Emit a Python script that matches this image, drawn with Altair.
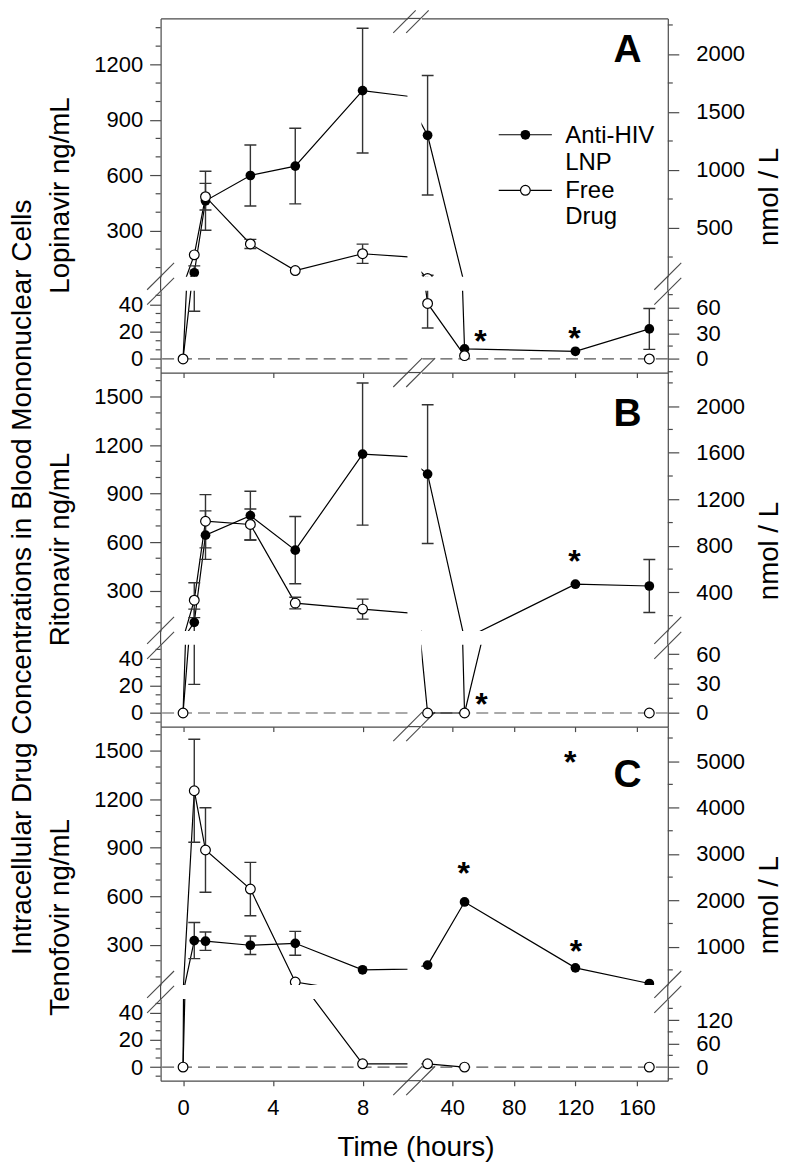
import altair as alt
import pandas as pd

# ---------------- values ----------------
times = [0, 0.5, 1, 3, 5, 8, 24, 48, 120, 168]

lopinavir_lnp     = [0, 72, 462, 599, 650, 1059, 817, 7.4, 5.6, 22]
lopinavir_lnp_sd  = [0, 37, 160, 165, 205, 338, 324, 0, 0, 15]
lopinavir_free    = [0, 169, 484, 228, 84, 175, 40.7, 2.4, None, 0]
lopinavir_free_sd = [0, 0, 72, 25, 0, 52, 18, 0, None, 0]

ritonavir_lnp     = [0, 103, 643, 764, 550, 1145, 1021, 0, 339, 328]
ritonavir_lnp_sd  = [0, 82, 150, 151, 208, 440, 430, 0, 0, 164]
ritonavir_free    = [0, 240, 729, 709, 222, 185, 0, 0, None, 0]
ritonavir_free_sd = [0, 108, 165, 96, 36, 62, 0, 0, None, 0]

tenofovir_lnp     = [0, 325, 321, 296, 308, 144, 173, 564, 156, 59]
tenofovir_lnp_sd  = [0, 112, 57, 57, 74, 0, 0, 0, 0, 0]
tenofovir_free    = [0, 1253, 886, 644, 68, 2.4, 2.4, 0, None, 0]
tenofovir_free_sd = [0, 319, 262, 165, 0, 0, 0, 0, None, 0]

series_values = [
    (lopinavir_lnp, lopinavir_lnp_sd, lopinavir_free, lopinavir_free_sd),
    (ritonavir_lnp, ritonavir_lnp_sd, ritonavir_free, ritonavir_free_sd),
    (tenofovir_lnp, tenofovir_lnp_sd, tenofovir_free, tenofovir_free_sd),
]

# significance asterisks (time, ng/mL)
star_t = [[58.3, 119.4], [59.0, 119.4], [116.6, 47.5, 120.3]]
star_v = [[18.3, 20.5], [11.9, 528], [1475, 785, 302]]

panel_letters = ["A", "B", "C"]
letter_t = 163
letter_v = [1216, 1321, 1279]

drug_titles = ["Lopinavir ng/mL", "Ritonavir ng/mL", "Tenofovir ng/mL"]
drug_title_y = [177.5, 177.5, 191.3]
mol_weight = [628.8, 720.9, 287.2]

legend_labels = ["Anti-HIV", "LNP", "Free", "Drug"]
legend_label_v = [774, 630.5, 477, 335]
legend_label_t = 113.4
legend_line_t = [70.2, 104.7]
legend_marker_t = 87.5
legend_line_v = [819.7, 518.6]

# axes
x_domains = [[-1, 10], [20, 180]]
x_ticks = [[0, 4, 8], [40, 80, 120, 160]]
upper_domain = [[50, 1450], [50, 1650], [50, 1650]]
lower_domain = [-10, 50]
left_major_up = [[300, 600, 900, 1200], [300, 600, 900, 1200, 1500], [300, 600, 900, 1200, 1500]]
left_minor_up = [[100, 200, 400, 500, 700, 800, 1000, 1100, 1300, 1400],
                 [100, 200, 400, 500, 700, 800, 1000, 1100, 1300, 1400, 1600],
                 [100, 200, 400, 500, 700, 800, 1000, 1100, 1300, 1400, 1600]]
left_major_lo = [0, 20, 40]
left_minor_lo = [-20 / 3, 20 / 3, 40 / 3, 80 / 3, 100 / 3, 140 / 3]
right_major_up = [[500, 1000, 1500, 2000], [400, 800, 1200, 1600, 2000], [1000, 2000, 3000, 4000, 5000]]
right_minor_up = [[250, 750, 1250, 1750, 2250], [200, 600, 1000, 1400, 1800, 2200], [500, 1500, 2500, 3500, 4500, 5500]]
right_major_lo = [[0, 30, 60], [0, 30, 60], [0, 60, 120]]
right_minor_lo = [[-15, 15, 45, 75], [15, 45], [-30, 30, 90, 150]]

# ---------------- layout / style ----------------
WL, WR, GX = 247.5, 247.0, 13.5
HU, HL, GY = 259.0, 82.0, 14.0
AX = "#4a4a4a"
ERR = "#333333"
FONT = "Liberation Sans"
ONE = pd.DataFrame({"k": [0]})


def panel_frames(p):
    lnp, lnp_sd, free, free_sd = series_values[p]
    rows = []
    for name, vals, sds in (("LNP", lnp, lnp_sd), ("Free", free, free_sd)):
        seg = 0
        for t, v, s in zip(times, vals, sds):
            if v is None:
                seg += 1
                continue
            rows.append({"t": t, "v": v, "sd": s, "series": name, "grp": f"{name}{seg}"})
    df = pd.DataFrame(rows)
    e = df[df["sd"] > 0].copy()
    e["lo"] = e["v"] - e["sd"]
    e["hi"] = e["v"] + e["sd"]
    caps = pd.concat([e.assign(c=e["lo"]), e.assign(c=e["hi"])])
    return df, e, caps


def rule_seg(x1, y1, x2, y2, color=AX, w=1.1):
    return alt.Chart(ONE).mark_rule(color=color, strokeWidth=w).encode(
        x=alt.value(x1), y=alt.value(y1), x2=alt.value(x2), y2=alt.value(y2))


def text_at(txt, x, y, size, angle=0, align="center", baseline="middle"):
    return alt.Chart(ONE).mark_text(text=txt, font=FONT, fontSize=size, angle=angle,
                                    align=align, baseline=baseline, color="black").encode(
        x=alt.value(x), y=alt.value(y))


def gap_cell(col):
    """Thin row between the upper and lower y-ranges: axis line and break marks."""
    W = WL if col == 0 else WR
    ax = 0 if col == 0 else W
    layers = [rule_seg(ax, 0, ax, GY, w=1.2)]
    cy = GY / 2
    for d in (-7.5, 7.5):
        layers.append(rule_seg(ax - 13.5, cy + d + 13.5, ax + 13.5, cy + d - 13.5))
    return alt.layer(*layers).properties(width=W, height=GY)


def make_cell(p, col, row):
    W = WL if col == 0 else WR
    H = HU if row == 0 else HL
    xs = alt.Scale(domain=x_domains[col], nice=False, zero=False)
    ydom = upper_domain[p] if row == 0 else lower_domain
    ys = alt.Scale(domain=ydom, nice=False, zero=False)
    K = 1000.0 / mol_weight[p]

    if row == 1:
        xaxis = alt.Axis(orient="bottom", values=x_ticks[col], format="d", labels=(p == 2),
                         tickSize=5, labelPadding=12, grid=False, title=None,
                         labelFlush=False, labelOverlap=False)
    elif p == 0:
        xaxis = alt.Axis(orient="top", ticks=False, labels=False, grid=False, title=None)
    else:
        xaxis = None

    if col == 0:
        vals = left_major_up[p] if row == 0 else left_major_lo
        yaxis = alt.Axis(orient="left", values=vals, format="d", tickSize=11, labelPadding=7,
                         grid=False, title=None, labelFlush=False, labelOverlap=False)
        minor = left_minor_up[p] if row == 0 else left_minor_lo
    else:
        majors = right_major_up[p] if row == 0 else right_major_lo[p]
        yaxis = alt.Axis(orient="right", values=[m / K for m in majors],
                         labelExpr=f"format(datum.value * {K}, '.0f')", tickSize=11,
                         labelPadding=17, grid=False, title=None,
                         labelFlush=False, labelOverlap=False)
        mn = right_minor_up[p] if row == 0 else right_minor_lo[p]
        minor = [m / K for m in mn]
    minor = [m for m in minor if ydom[0] <= m <= ydom[1]]

    def X(f):
        return alt.X(f"{f}:Q", scale=xs, axis=xaxis)

    def Y(f):
        return alt.Y(f"{f}:Q", scale=ys, axis=yaxis)

    df, err, caps = panel_frames(p)
    layers = []
    if row == 1:
        layers.append(alt.Chart(pd.DataFrame({"z": [0]})).mark_rule(
            color="#555555", strokeDash=[12, 6], strokeWidth=1.2).encode(y=Y("z")))
    # minor ticks
    mx0, mx1 = (0, -5) if col == 0 else (W, W + 5)
    layers.append(alt.Chart(pd.DataFrame({"v": minor})).mark_rule(color=AX, strokeWidth=1.2).encode(
        y=Y("v"), x=alt.value(mx0), x2=alt.value(mx1)))
    # series lines
    layers.append(alt.Chart(df).mark_line(clip=True, color="black", strokeWidth=1.2).encode(
        x=X("t"), y=Y("v"), detail="grp:N"))
    # error bars
    layers.append(alt.Chart(err).mark_rule(clip=True, color=ERR, strokeWidth=1.4).encode(
        x=X("t"), y=Y("lo"), y2="hi:Q"))
    layers.append(alt.Chart(caps).mark_tick(clip=True, orient="horizontal", color=ERR, size=12,
                                            thickness=1.4, opacity=1).encode(x=X("t"), y=Y("c")))
    # points
    layers.append(alt.Chart(df[df["series"] == "LNP"]).mark_point(
        clip=True, shape="circle", filled=True, color="black", size=95, opacity=1).encode(
        x=X("t"), y=Y("v")))
    layers.append(alt.Chart(df[df["series"] == "Free"]).mark_point(
        clip=True, shape="circle", filled=True, fill="white", stroke="black", strokeWidth=1.2,
        size=95, opacity=1).encode(x=X("t"), y=Y("v")))
    # asterisks
    stars = pd.DataFrame({"t": star_t[p], "v": star_v[p]})
    layers.append(alt.Chart(stars).mark_text(clip=True, text="*", font=FONT, fontSize=32,
                                             fontWeight="bold", baseline="alphabetic", dy=18,
                                             color="black").encode(x=X("t"), y=Y("v")))

    # decorations
    if col == 0 and row == 0:
        layers.append(text_at(drug_titles[p], -100, drug_title_y[p], 27.7, angle=270))
        if p == 0:
            cx = WL + GX / 2
            layers.append(rule_seg(WL, 0, WL + GX, 0, w=1.2))
            for d in (-6.5, 6.5):
                layers.append(rule_seg(cx + d - 14.5, 14.5, cx + d + 8, -8))
        if p == 1:
            layers.append(text_at("Intracellular Drug Concentrations in Blood Mononuclear Cells",
                                  -138, 205.3, 28, angle=270))
    if col == 1 and row == 0:
        layers.append(text_at("nmol / L", W + 102, 179, 27.7, angle=270))
        let = pd.DataFrame({"t": [letter_t], "v": [letter_v[p]], "s": [panel_letters[p]]})
        layers.append(alt.Chart(let).mark_text(font=FONT, fontSize=39, fontWeight="bold",
                                               align="right", baseline="alphabetic",
                                               color="black").encode(
            x=X("t"), y=Y("v"), text="s:N"))
        if p == 0:
            ll = pd.DataFrame({"t": legend_line_t * 2,
                               "v": [legend_line_v[0]] * 2 + [legend_line_v[1]] * 2,
                               "g": ["a", "a", "b", "b"]})
            layers.append(alt.Chart(ll).mark_line(color="black", strokeWidth=1.2).encode(
                x=X("t"), y=Y("v"), detail="g:N"))
            layers.append(alt.Chart(pd.DataFrame({"t": [legend_marker_t], "v": [legend_line_v[0]]}))
                          .mark_point(shape="circle", filled=True, color="black", size=95, opacity=1)
                          .encode(x=X("t"), y=Y("v")))
            layers.append(alt.Chart(pd.DataFrame({"t": [legend_marker_t], "v": [legend_line_v[1]]}))
                          .mark_point(shape="circle", filled=True, fill="white", stroke="black",
                                      strokeWidth=1.2, size=95, opacity=1)
                          .encode(x=X("t"), y=Y("v")))
            lt = pd.DataFrame({"t": [legend_label_t] * 4, "v": legend_label_v, "s": legend_labels})
            layers.append(alt.Chart(lt).mark_text(font=FONT, fontSize=24, align="left",
                                                  baseline="alphabetic", color="black").encode(
                x=X("t"), y=Y("v"), text="s:N"))
    if col == 0 and row == 1:
        cx = WL + GX / 2
        layers.append(rule_seg(WL, H, WL + GX, H, w=1.2))
        for d in (-6.5, 6.5):
            layers.append(rule_seg(cx + d - 14.5, H + 14.5, cx + d + 14.5, H - 14.5))
        if p == 2:
            layers.append(text_at("Time (hours)", 256, 157, 28, baseline="alphabetic"))

    return alt.layer(*layers).properties(width=W, height=H)


cells = []
for p in range(3):
    cells += [make_cell(p, 0, 0), make_cell(p, 1, 0)]
    cells += [gap_cell(0), gap_cell(1)]
    cells += [make_cell(p, 0, 1), make_cell(p, 1, 1)]

chart = (
    alt.concat(*cells, columns=2, spacing={"row": 0, "column": GX}, bounds="flush", align="each")
    .properties(padding=0)
    .configure_view(stroke=None)
    .configure_axis(labelFont=FONT, labelFontSize=22, labelColor="black", domainColor=AX,
                    tickColor=AX, domainWidth=1.2, tickWidth=1.2)
)

chart.save("out.html", embed_options={"renderer": "svg", "actions": False})
